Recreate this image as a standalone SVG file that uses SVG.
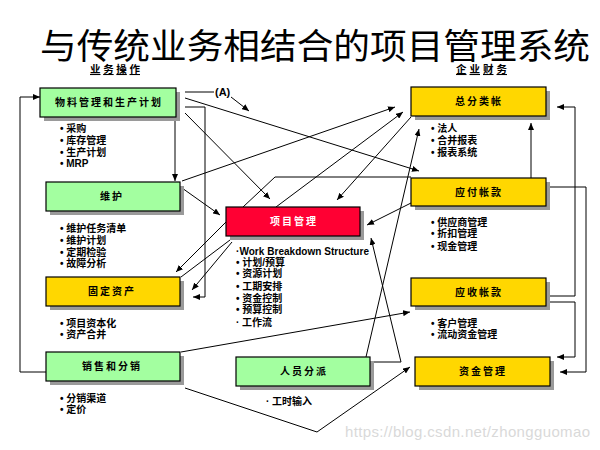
<svg xmlns="http://www.w3.org/2000/svg" width="600" height="450" viewBox="0 0 600 450">
<defs>
<marker id="ah" markerUnits="userSpaceOnUse" markerWidth="7" markerHeight="6" refX="7" refY="3" orient="auto">
<path d="M0,0 L7,3 L0,6 z" fill="#000"/>
</marker>
</defs>
<style>
.sh{fill:#9a9a9a}
.box{stroke:#000;stroke-width:1.2}
.g{fill:#a3ffa0}
.y{fill:#ffd700}
.r{fill:#ff0033}
.lbl{font-family:"Noto Sans CJK SC","Noto Sans",sans-serif;font-size:10px;font-weight:bold;letter-spacing:2px;text-anchor:middle;fill:#000}
.lw{fill:#fff}
.bl{font-family:"Liberation Sans","Noto Sans CJK SC",sans-serif;font-size:10px;font-weight:bold;fill:#000}
.ln{fill:none;stroke:#000;stroke-width:1}
.arr{marker-end:url(#ah)}
.hd{font-family:"Noto Sans CJK SC","Liberation Sans",sans-serif;font-size:10.5px;font-weight:bold;fill:#000;text-decoration:underline}
</style>
<rect width="600" height="450" fill="#fff"/>
<text x="40" y="59" font-family="'Noto Sans CJK SC','Noto Sans',sans-serif" font-size="35" textLength="550" lengthAdjust="spacingAndGlyphs" fill="#000">与传统业务相结合的项目管理系统</text>
<text class="hd" x="90" y="73" textLength="50">业务操作</text>
<text class="hd" x="456" y="73" textLength="51">企业财务</text>

<g id="connectors">
<polyline class="ln arr" points="46,372 20,372 20,97 40,97"/>
<line class="ln" x1="185" y1="92" x2="214" y2="92"/>
<text x="215" y="96" font-family="'Liberation Sans',Arial,sans-serif" font-size="11" font-weight="bold">(A)</text>
<line class="ln arr" x1="231" y1="97" x2="249" y2="111"/>
<polyline class="ln arr" points="185,107 205,107 205,297 193,297"/>
<line class="ln arr" x1="185" y1="98" x2="419" y2="171"/>
<line class="ln arr" x1="185" y1="113" x2="270" y2="199"/>
<line class="ln arr" x1="175" y1="121" x2="175" y2="181"/>
<line class="ln arr" x1="182" y1="181" x2="395" y2="107"/>
<line class="ln arr" x1="182" y1="188" x2="220" y2="215"/>
<line class="ln arr" x1="226" y1="222" x2="176" y2="272"/>
<line class="ln" x1="230" y1="240" x2="181" y2="277"/>
<line class="ln arr" x1="232" y1="242" x2="192" y2="290"/>
<polyline class="ln" points="243,207 275,177 411,177"/>
<line class="ln arr" x1="276" y1="207" x2="403" y2="112"/>
<line class="ln arr" x1="411" y1="117" x2="337" y2="200"/>
<line class="ln arr" x1="366" y1="357" x2="419" y2="129"/>
<polyline class="ln arr" points="370,362 401,362 371,238"/>
<line class="ln arr" x1="411" y1="203" x2="367" y2="225"/>
<line class="ln arr" x1="181" y1="352" x2="410" y2="312"/>
<polyline class="ln arr" points="185,388 317,432 410,367"/>
<line class="ln arr" x1="531" y1="178" x2="531" y2="123"/>
<polyline class="ln arr" points="546,187 586,187 586,372 560,372"/>
<polyline class="ln arr" points="546,296 575,296 575,107 557,107"/>
<polyline class="ln arr" points="546,302 575,302 575,357 557,357"/>
</g>

<g id="n1">
<rect class="sh" x="44" y="92" width="136" height="29"/>
<rect class="box g" x="40" y="88" width="136" height="29"/>
<text class="lbl" x="109" y="106">物料管理和生产计划</text>
<text class="bl" x="60" y="132">• 采购</text>
<text class="bl" x="60" y="144">• 库存管理</text>
<text class="bl" x="60" y="156">• 生产计划</text>
<text class="bl" x="60" y="167">• MRP</text>
</g>

<g id="n2">
<rect class="sh" x="50" y="186" width="134" height="29"/>
<rect class="box g" x="46" y="182" width="134" height="29"/>
<text class="lbl" x="112" y="200">维护</text>
<text class="bl" x="60" y="232">• 维护任务清单</text>
<text class="bl" x="60" y="244">• 维护计划</text>
<text class="bl" x="60" y="256">• 定期检验</text>
<text class="bl" x="60" y="267">• 故障分析</text>
</g>

<g id="n3">
<rect class="sh" x="50" y="281" width="134" height="29"/>
<rect class="box y" x="46" y="277" width="134" height="29"/>
<text class="lbl" x="112" y="295">固定资产</text>
<text class="bl" x="60" y="327">• 项目资本化</text>
<text class="bl" x="60" y="338">• 资产合并</text>
</g>

<g id="n4">
<rect class="sh" x="50" y="356" width="134" height="29"/>
<rect class="box g" x="46" y="352" width="134" height="29"/>
<text class="lbl" x="112" y="370">销售和分销</text>
<text class="bl" x="60" y="402">• 分销渠道</text>
<text class="bl" x="60" y="413">• 定价</text>
</g>

<g id="n5">
<rect class="sh" x="230" y="211" width="134" height="29"/>
<rect class="box r" x="226" y="207" width="134" height="29"/>
<text class="lbl lw" x="294" y="225">项目管理</text>
<text class="bl" x="236" y="255" textLength="133">·Work Breakdown Structure</text>
<text class="bl" x="236" y="266">• 计划/预算</text>
<text class="bl" x="236" y="277">• 资源计划</text>
<text class="bl" x="236" y="290">• 工期安排</text>
<text class="bl" x="236" y="302">• 资金控制</text>
<text class="bl" x="236" y="313">• 预算控制</text>
<text class="bl" x="236" y="326">· 工作流</text>
</g>

<g id="n6">
<rect class="sh" x="240" y="361" width="134" height="29"/>
<rect class="box g" x="236" y="357" width="134" height="29"/>
<text class="lbl" x="304" y="375">人员分派</text>
<text class="bl" x="266" y="405">· 工时输入</text>
</g>

<g id="n7">
<rect class="sh" x="415" y="91" width="135" height="29"/>
<rect class="box y" x="411" y="87" width="135" height="29"/>
<text class="lbl" x="479" y="105">总分类帐</text>
<text class="bl" x="431" y="132">• 法人</text>
<text class="bl" x="431" y="144">• 合并报表</text>
<text class="bl" x="431" y="156">• 报表系统</text>
</g>

<g id="n8">
<rect class="sh" x="415" y="182" width="135" height="28"/>
<rect class="box y" x="411" y="178" width="135" height="28"/>
<text class="lbl" x="479" y="196">应付帐款</text>
<text class="bl" x="431" y="226">• 供应商管理</text>
<text class="bl" x="431" y="237">• 折扣管理</text>
<text class="bl" x="431" y="250">• 现金管理</text>
</g>

<g id="n9">
<rect class="sh" x="415" y="282" width="135" height="28"/>
<rect class="box y" x="411" y="278" width="135" height="28"/>
<text class="lbl" x="479" y="296">应收帐款</text>
<text class="bl" x="431" y="327">• 客户管理</text>
<text class="bl" x="431" y="338">• 流动资金管理</text>
</g>

<g id="n10">
<rect class="sh" x="419" y="361" width="135" height="29"/>
<rect class="box y" x="415" y="357" width="135" height="29"/>
<text class="lbl" x="483" y="375">资金管理</text>
</g>

<text x="345" y="437" font-family="'Liberation Sans',Arial,sans-serif" font-size="15" fill="#d9d9d9" textLength="245">https://blog.csdn.net/zhongguomao</text>
</svg>
